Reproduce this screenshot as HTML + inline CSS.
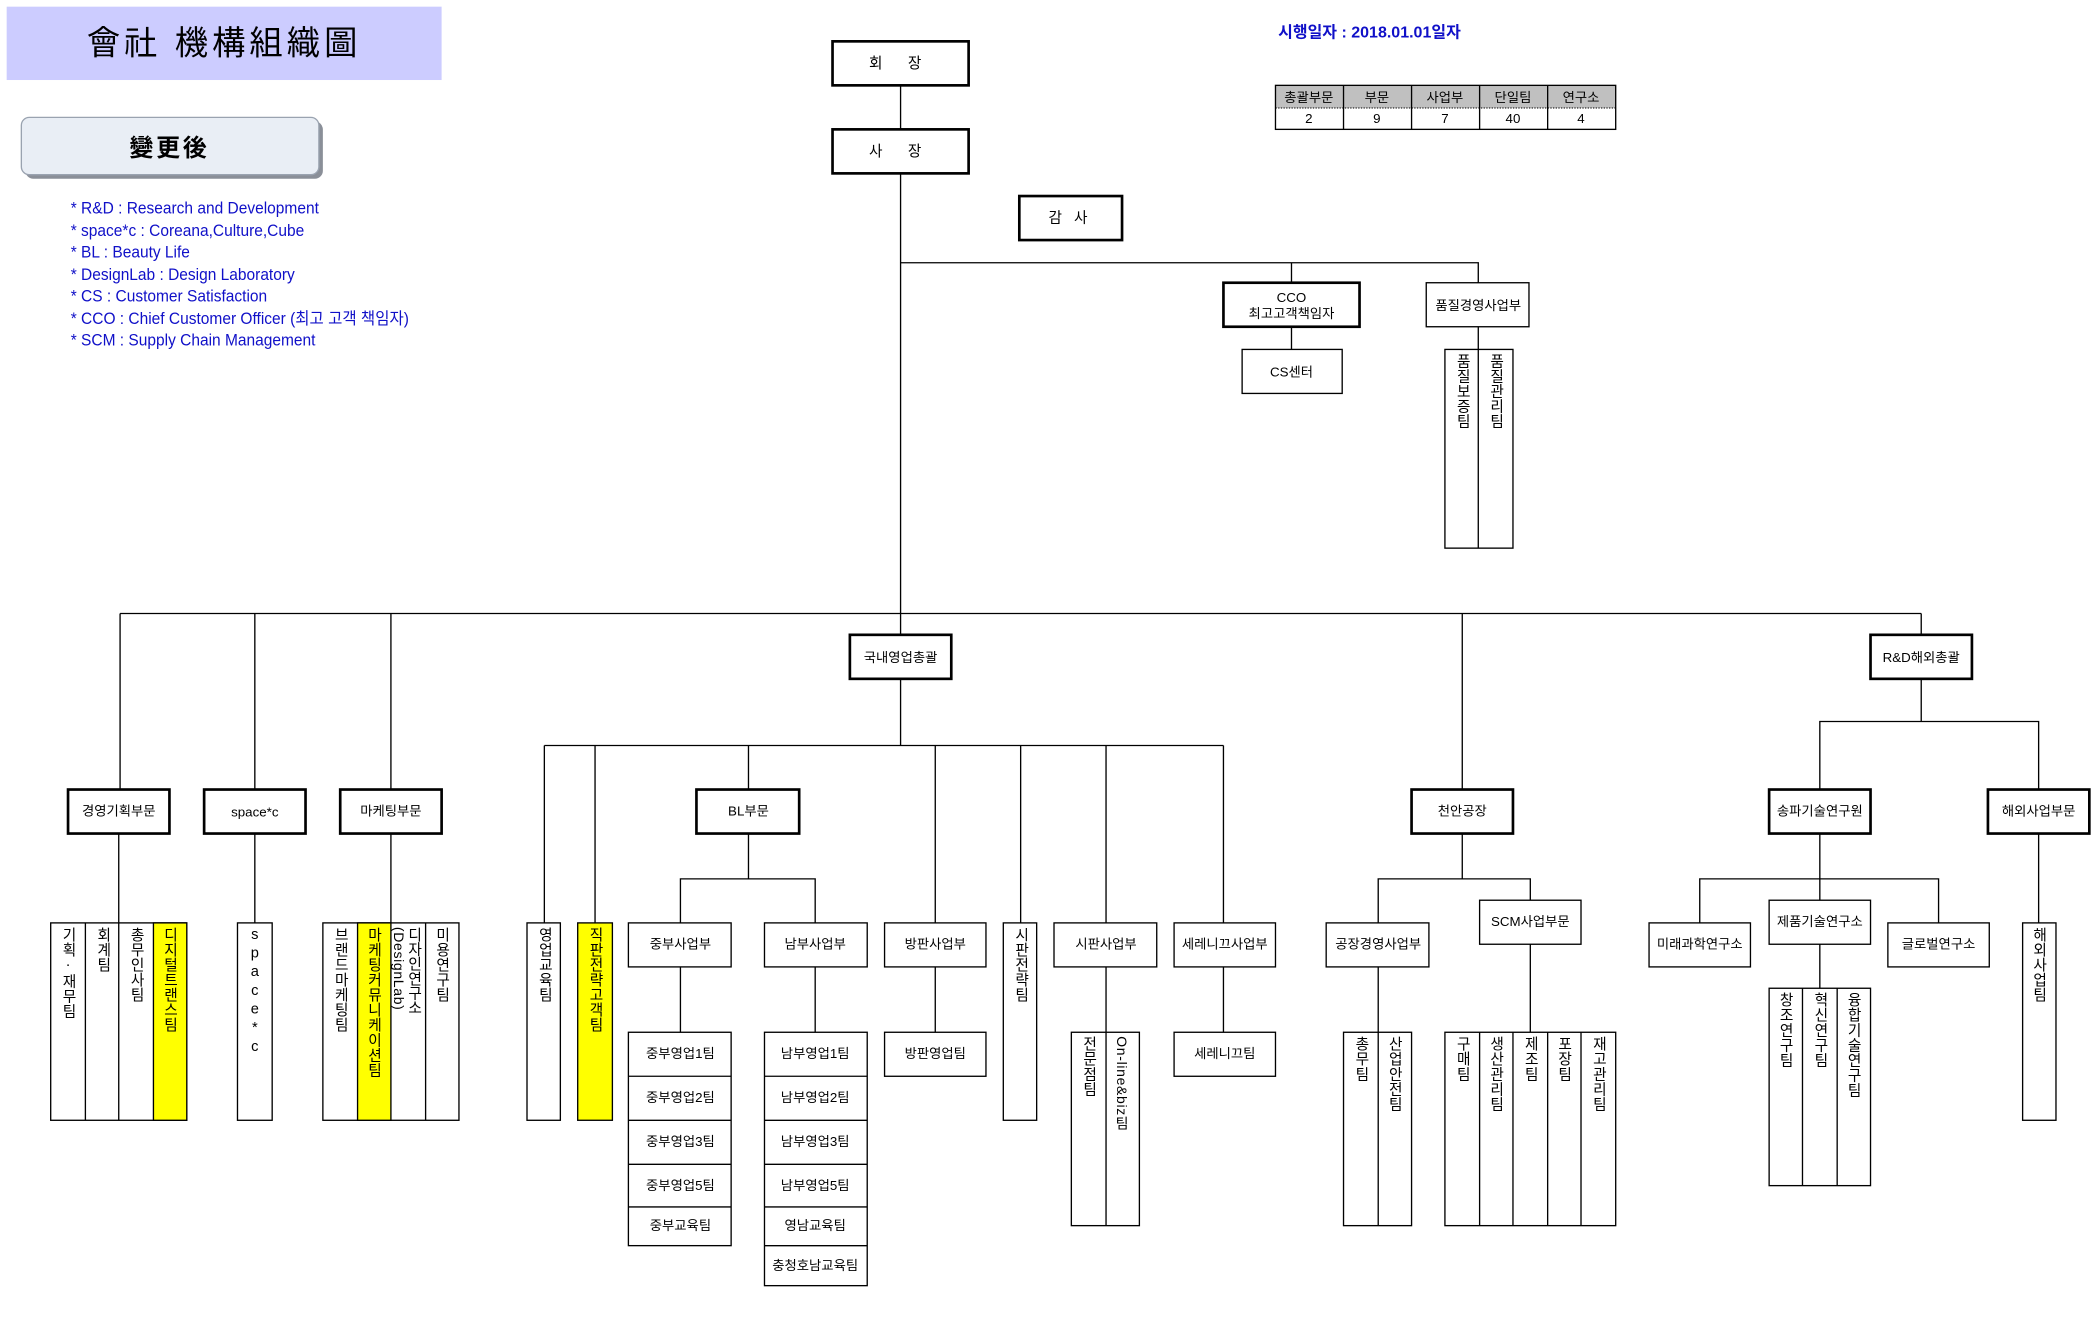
<!DOCTYPE html>
<html><head><meta charset="utf-8">
<style>
html,body{margin:0;padding:0;background:#fff;}
svg{display:block;}
text{font-family:"Liberation Sans","Noto Sans CJK KR","NanumGothic",sans-serif;fill:#000;}
.b{font-size:10px;text-anchor:middle;dominant-baseline:central;}
.v{font-size:11px;writing-mode:vertical-rl;text-orientation:upright;letter-spacing:0.3px;}
.vm{font-size:10.5px;writing-mode:vertical-rl;letter-spacing:0.5px;}
.lg{font-size:12.5px;fill:#1010c8;}
</style></head><body>
<svg width="2092" height="1327" viewBox="0 0 1568 995" preserveAspectRatio="none" xmlns="http://www.w3.org/2000/svg">
<rect x="5" y="5" width="326" height="55" fill="#ccccff"/>
<text x="168" y="41" style="font-size:25px;text-anchor:middle;letter-spacing:3px">會社 機構組織圖</text>
<rect x="19" y="91" width="223" height="43" rx="6" fill="#8a8f98"/>
<rect x="16" y="88" width="223" height="43" rx="6" fill="#e9eef5" stroke="#9aa3b0" stroke-width="1"/>
<text x="127" y="117" style="font-size:18px;font-weight:bold;text-anchor:middle;letter-spacing:2px">變更後</text>
<g transform="translate(53,0) scale(0.93,1)">
<text class="lg" x="0" y="160">* R&amp;D : Research and Development</text>
<text class="lg" x="0" y="177">* space*c : Coreana,Culture,Cube</text>
<text class="lg" x="0" y="193">* BL : Beauty Life</text>
<text class="lg" x="0" y="210">* DesignLab : Design Laboratory</text>
<text class="lg" x="0" y="226">* CS : Customer Satisfaction</text>
<text class="lg" x="0" y="243">* CCO : Chief Customer Officer (최고 고객 책임자)</text>
<text class="lg" x="0" y="259">* SCM : Supply Chain Management</text>
</g>
<text x="958" y="28" style="font-size:12px;font-weight:bold;fill:#1010c8">시행일자 : 2018.01.01일자</text>
<rect x="956" y="64" width="255" height="17" fill="#c0c0c0"/>
<rect x="956" y="64" width="255" height="33" fill="none" stroke="#000" stroke-width="1"/>
<line x1="956" y1="81" x2="1211" y2="81" stroke="#000" stroke-width="0.8" stroke-dasharray="1,1"/>
<g stroke="#000" stroke-width="1"><line x1="1007" y1="64" x2="1007" y2="97"/><line x1="1058" y1="64" x2="1058" y2="97"/><line x1="1109" y1="64" x2="1109" y2="97"/><line x1="1160" y1="64" x2="1160" y2="97"/></g>
<text class="b" x="981" y="73">총괄부문</text><text class="b" x="1032" y="73">부문</text><text class="b" x="1083" y="73">사업부</text><text class="b" x="1134" y="73">단일팀</text><text class="b" x="1185" y="73">연구소</text>
<text class="b" x="981" y="89">2</text><text class="b" x="1032" y="89">9</text><text class="b" x="1083" y="89">7</text><text class="b" x="1134" y="89">40</text><text class="b" x="1185" y="89">4</text>

<g stroke="#000" stroke-width="1" fill="none">
<line x1="675" y1="64" x2="675" y2="97"/>
<line x1="675" y1="130" x2="675" y2="476"/>
<polyline points="675,197 1108,197 1108,212"/>
<line x1="968" y1="197" x2="968" y2="212"/>
<line x1="968" y1="245" x2="968" y2="262"/>
<line x1="1108" y1="245" x2="1108" y2="262"/>
<line x1="90" y1="460" x2="1440" y2="460"/>
<line x1="90" y1="460" x2="90" y2="592"/>
<line x1="191" y1="460" x2="191" y2="592"/>
<line x1="293" y1="460" x2="293" y2="592"/>
<line x1="1096" y1="460" x2="1096" y2="592"/>
<line x1="1440" y1="460" x2="1440" y2="476"/>
<line x1="675" y1="509" x2="675" y2="559"/>
<line x1="408" y1="559" x2="917" y2="559"/>
<line x1="408" y1="559" x2="408" y2="692"/>
<line x1="446" y1="559" x2="446" y2="692"/>
<line x1="561" y1="559" x2="561" y2="592"/>
<line x1="701" y1="559" x2="701" y2="692"/>
<line x1="765" y1="559" x2="765" y2="692"/>
<line x1="829" y1="559" x2="829" y2="692"/>
<line x1="917" y1="559" x2="917" y2="692"/>
<line x1="1440" y1="509" x2="1440" y2="541"/>
<polyline points="1364,592 1364,541 1528,541 1528,592"/>
<line x1="89" y1="625" x2="89" y2="692"/>
<line x1="191" y1="625" x2="191" y2="692"/>
<line x1="293" y1="625" x2="293" y2="692"/>
<line x1="561" y1="625" x2="561" y2="659"/>
<polyline points="510,692 510,659 611,659 611,692"/>
<line x1="510" y1="725" x2="510" y2="774"/>
<line x1="611" y1="725" x2="611" y2="774"/>
<line x1="701" y1="725" x2="701" y2="774"/>
<line x1="829" y1="725" x2="829" y2="774"/>
<line x1="917" y1="725" x2="917" y2="774"/>
<line x1="1096" y1="625" x2="1096" y2="659"/>
<polyline points="1033,692 1033,659 1147,659 1147,675"/>
<line x1="1033" y1="725" x2="1033" y2="774"/>
<line x1="1147" y1="708" x2="1147" y2="774"/>
<line x1="1364" y1="625" x2="1364" y2="675"/>
<polyline points="1274,692 1274,659 1453,659 1453,692"/>
<line x1="1364" y1="708" x2="1364" y2="741"/>
<line x1="1528" y1="625" x2="1528" y2="692"/>
</g>

<g stroke="#000" stroke-width="2" fill="#fff">
<rect x="624" y="31" width="102" height="33"/>
<rect x="624" y="97" width="102" height="33"/>
<rect x="764" y="147" width="77" height="33"/>
<rect x="917" y="212" width="102" height="33"/>
<rect x="637" y="476" width="76" height="33"/>
<rect x="1402" y="476" width="76" height="33"/>
<rect x="51" y="592" width="76" height="33"/>
<rect x="153" y="592" width="76" height="33"/>
<rect x="255" y="592" width="76" height="33"/>
<rect x="522" y="592" width="77" height="33"/>
<rect x="1058" y="592" width="76" height="33"/>
<rect x="1326" y="592" width="76" height="33"/>
<rect x="1490" y="592" width="76" height="33"/>
</g>
<g stroke="#000" stroke-width="1" fill="#fff">
<rect x="931" y="262" width="75" height="33"/>
<rect x="1069" y="212" width="77" height="33"/>
<rect x="1083" y="262" width="51" height="149"/>
<rect x="38" y="692" width="102" height="148"/>
<rect x="115" y="692" width="25" height="148" fill="#ffff00"/>
<rect x="178" y="692" width="26" height="148"/>
<rect x="242" y="692" width="102" height="148"/>
<rect x="268" y="692" width="25" height="148" fill="#ffff00"/>
<rect x="395" y="692" width="25" height="148"/>
<rect x="433" y="692" width="26" height="148" fill="#ffff00"/>
<rect x="471" y="692" width="77" height="33"/>
<rect x="573" y="692" width="77" height="33"/>
<rect x="663" y="692" width="76" height="33"/>
<rect x="752" y="692" width="25" height="148"/>
<rect x="790" y="692" width="77" height="33"/>
<rect x="880" y="692" width="76" height="33"/>
<rect x="471" y="774" width="77" height="160"/>
<rect x="573" y="774" width="77" height="190"/>
<rect x="663" y="774" width="76" height="33"/>
<rect x="803" y="774" width="51" height="145"/>
<rect x="880" y="774" width="76" height="33"/>
<rect x="994" y="692" width="77" height="33"/>
<rect x="1109" y="675" width="76" height="33"/>
<rect x="1007" y="774" width="51" height="145"/>
<rect x="1083" y="774" width="128" height="145"/>
<rect x="1236" y="692" width="76" height="33"/>
<rect x="1326" y="675" width="76" height="33"/>
<rect x="1415" y="692" width="76" height="33"/>
<rect x="1326" y="741" width="76" height="148"/>
<rect x="1516" y="692" width="25" height="148"/>
</g>
<g stroke="#000" stroke-width="1">
<line x1="1108" y1="262" x2="1108" y2="411"/>
<line x1="64" y1="692" x2="64" y2="840"/><line x1="89" y1="692" x2="89" y2="840"/>
<line x1="319" y1="692" x2="319" y2="840"/>
<line x1="471" y1="807" x2="548" y2="807"/><line x1="471" y1="840" x2="548" y2="840"/><line x1="471" y1="873" x2="548" y2="873"/><line x1="471" y1="905" x2="548" y2="905"/>
<line x1="573" y1="807" x2="650" y2="807"/><line x1="573" y1="840" x2="650" y2="840"/><line x1="573" y1="873" x2="650" y2="873"/><line x1="573" y1="905" x2="650" y2="905"/><line x1="573" y1="934" x2="650" y2="934"/>
<line x1="829" y1="774" x2="829" y2="919"/>
<line x1="1033" y1="774" x2="1033" y2="919"/>
<line x1="1109" y1="774" x2="1109" y2="919"/><line x1="1134" y1="774" x2="1134" y2="919"/><line x1="1160" y1="774" x2="1160" y2="919"/><line x1="1185" y1="774" x2="1185" y2="919"/>
<line x1="1351" y1="741" x2="1351" y2="889"/><line x1="1377" y1="741" x2="1377" y2="889"/>
</g>

<text class="b" x="675" y="48" style="font-size:11px;letter-spacing:8px">회 장</text>
<text class="b" x="675" y="114" style="font-size:11px;letter-spacing:8px">사 장</text>
<text class="b" x="802" y="164" style="font-size:11px;letter-spacing:3px">감 사</text>
<text class="b" x="968" y="223">CCO</text>
<text class="b" x="968" y="235">최고고객책임자</text>
<text class="b" x="968" y="279">CS센터</text>
<text class="b" x="1108" y="229">품질경영사업부</text>
<text class="b" x="675" y="493">국내영업총괄</text>
<text class="b" x="1440" y="493">R&amp;D해외총괄</text>
<text class="b" x="89" y="608">경영기획부문</text>
<text class="b" x="191" y="609">space*c</text>
<text class="b" x="293" y="608">마케팅부문</text>
<text class="b" x="561" y="608">BL부문</text>
<text class="b" x="1096" y="608">천안공장</text>
<text class="b" x="1364" y="608">송파기술연구원</text>
<text class="b" x="1528" y="608">해외사업부문</text>
<text class="b" x="510" y="708">중부사업부</text>
<text class="b" x="611" y="708">남부사업부</text>
<text class="b" x="701" y="708">방판사업부</text>
<text class="b" x="829" y="708">시판사업부</text>
<text class="b" x="918" y="708">세레니끄사업부</text>
<text class="b" x="510" y="790">중부영업1팀</text>
<text class="b" x="510" y="823">중부영업2팀</text>
<text class="b" x="510" y="856">중부영업3팀</text>
<text class="b" x="510" y="889">중부영업5팀</text>
<text class="b" x="510" y="919">중부교육팀</text>
<text class="b" x="611" y="790">남부영업1팀</text>
<text class="b" x="611" y="823">남부영업2팀</text>
<text class="b" x="611" y="856">남부영업3팀</text>
<text class="b" x="611" y="889">남부영업5팀</text>
<text class="b" x="611" y="919">영남교육팀</text>
<text class="b" x="611" y="949">충청호남교육팀</text>
<text class="b" x="701" y="790">방판영업팀</text>
<text class="b" x="918" y="790">세레니끄팀</text>
<text class="b" x="1033" y="708">공장경영사업부</text>
<text class="b" x="1147" y="691">SCM사업부문</text>
<text class="b" x="1274" y="708">미래과학연구소</text>
<text class="b" x="1364" y="691">제품기술연구소</text>
<text class="b" x="1453" y="708">글로벌연구소</text>

<text class="v" x="1096" y="265">품질보증팀</text>
<text class="v" x="1121" y="265">품질관리팀</text>
<text class="v" x="51" y="695">기획·재무팀</text>
<text class="v" x="77" y="695">회계팀</text>
<text class="v" x="102" y="695">총무인사팀</text>
<text class="v" x="127" y="695">디지털트랜스팀</text>
<text class="v" x="191" y="695" style="letter-spacing:2px">space*c</text>
<text class="v" x="255" y="695">브랜드마케팅팀</text>
<text class="v" x="280" y="695">마케팅커뮤니케이션팀</text>
<text class="v" x="310" y="695" style="letter-spacing:0">디자인연구소</text>
<text class="vm" x="299" y="695">(DesignLab)</text>
<text class="v" x="331" y="695">미용연구팀</text>
<text class="v" x="408" y="695">영업교육팀</text>
<text class="v" x="446" y="695">직판전략고객팀</text>
<text class="v" x="765" y="695">시판전략팀</text>
<text class="v" x="816" y="777">전문점팀</text>
<text class="vm" x="841" y="777">On-line&amp;biz팀</text>
<text class="v" x="1020" y="777">총무팀</text>
<text class="v" x="1045" y="777">산업안전팀</text>
<text class="v" x="1096" y="777">구매팀</text>
<text class="v" x="1121" y="777">생산관리팀</text>
<text class="v" x="1147" y="777">제조팀</text>
<text class="v" x="1172" y="777">포장팀</text>
<text class="v" x="1198" y="777">재고관리팀</text>
<text class="v" x="1338" y="744">창조연구팀</text>
<text class="v" x="1364" y="744">혁신연구팀</text>
<text class="v" x="1389" y="744">융합기술연구팀</text>
<text class="v" x="1528" y="695">해외사업팀</text>
</svg>
</body></html>
